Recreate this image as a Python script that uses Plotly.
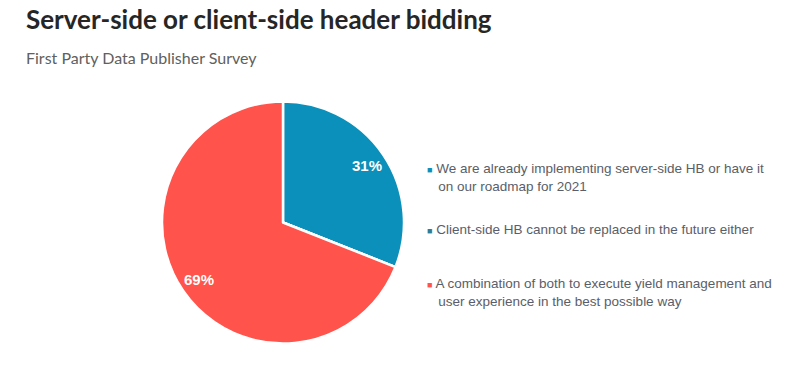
import math
import plotly.graph_objects as go

labels = [
    "We are already implementing server-side HB or have it<br>on our roadmap for 2021",
    "Client-side HB cannot be replaced in the future either",
    "A combination of both to execute yield management and<br>user experience in the best possible way",
]
values = [31, 0, 69]
colors = ["#0A90BA", "#2F7C98", "#FF534B"]
legend_y_px = [178, 229, 292]

W, H = 785, 369
CX, CY, R = 283, 222.5, 121

fig = go.Figure()
fig.add_trace(go.Pie(
    labels=labels,
    values=values,
    sort=False,
    direction="clockwise",
    rotation=0,
    marker=dict(colors=colors, line=dict(color="white", width=2.5)),
    textinfo="none",
    domain=dict(x=[(CX - R) / W, (CX + R) / W], y=[1 - (CY + R) / H, 1 - (CY - R) / H]),
    showlegend=False,
    hoverinfo="label+percent",
))

annotations = [
    dict(text="<b>Server-side or client-side header bidding</b>", x=24 / W, y=1 - 19 / H,
         xref="paper", yref="paper", xanchor="left", yanchor="middle", showarrow=False,
         font=dict(family="Lato, Noto Sans", size=26, color="#262626")),
    dict(text="First Party Data Publisher Survey", x=24 / W, y=1 - 58 / H,
         xref="paper", yref="paper", xanchor="left", yanchor="middle", showarrow=False,
         font=dict(family="Lato, Noto Sans", size=16, color="#606060")),
]

# percentage labels placed at slice mid-angles
total = sum(values)
cum = 0
for v in values:
    if v > 0:
        mid = (cum + v / 2) / total * 2 * math.pi
        r = 0.84 * R
        px = CX + r * math.sin(mid)
        py = CY - r * math.cos(mid)
        annotations.append(dict(
            text=f"<b>{round(v / total * 100)}%</b>", x=px / W, y=1 - py / H,
            xref="paper", yref="paper", xanchor="center", yanchor="middle", showarrow=False,
            font=dict(family="Liberation Sans, Arial", size=15, color="white"),
        ))
    cum += v

for lab, col, yp in zip(labels, colors, legend_y_px):
    lines = lab.split("<br>")
    first = f"<span style='color:{col};font-size:9px'>■</span> " + lines[0]
    rest = ["&nbsp;&nbsp;&nbsp;" + l for l in lines[1:]]
    annotations.append(dict(
        text="<br>".join([first] + rest), x=425 / W, y=1 - yp / H,
        xref="paper", yref="paper", xanchor="left", yanchor="middle", align="left",
        showarrow=False,
        font=dict(family="Liberation Sans, Arial", size=13.5, color="#5A5E68"),
    ))

fig.update_layout(
    width=W, height=H,
    margin=dict(l=0, r=0, t=0, b=0),
    paper_bgcolor="white", plot_bgcolor="white",
    annotations=annotations,
)

fig.write_html("out.html", config={"displayModeBar": False},
               post_script="document.body.style.margin='0px';")
